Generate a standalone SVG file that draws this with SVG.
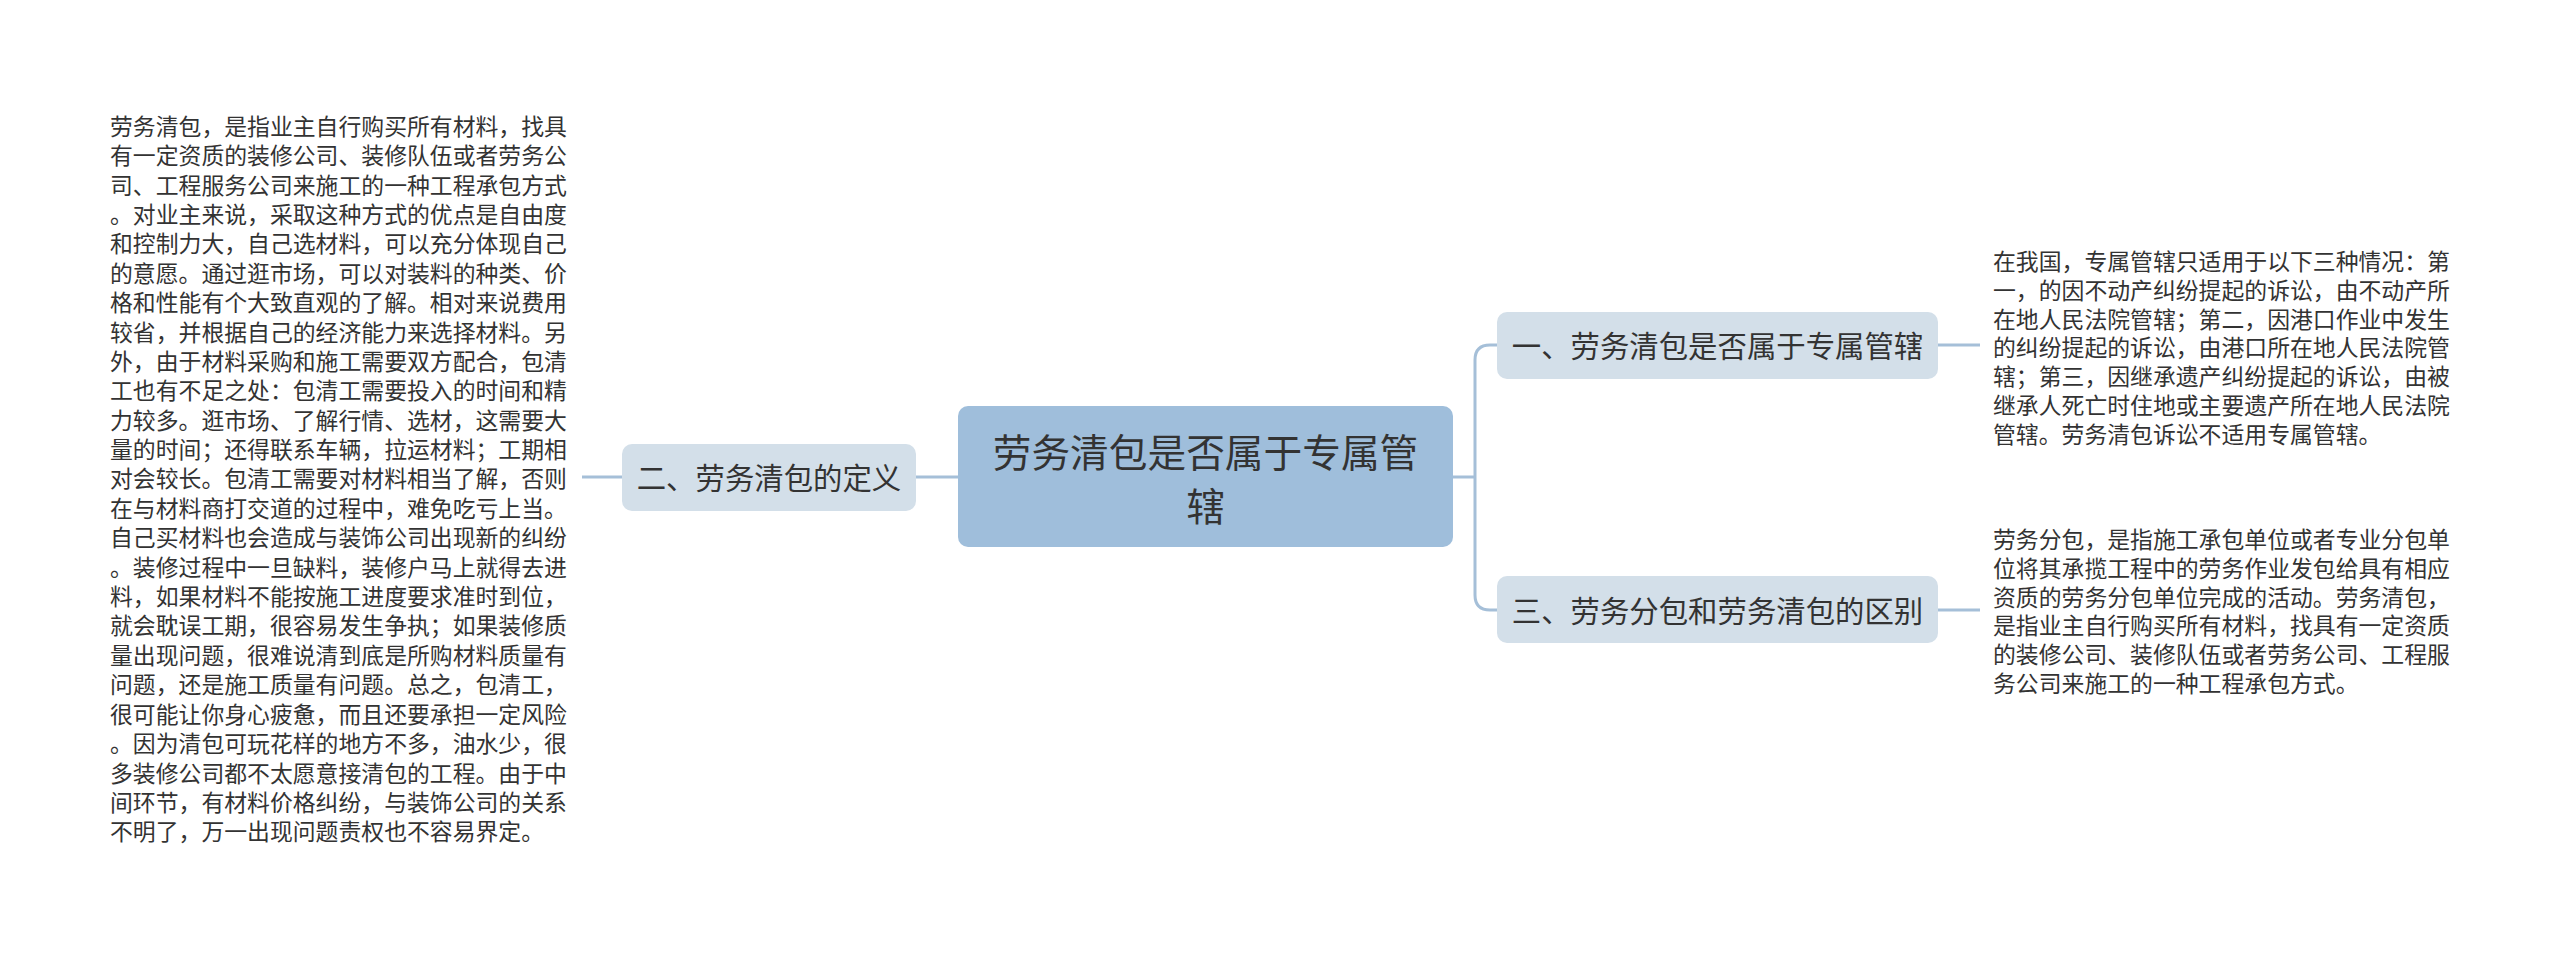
<svg xmlns="http://www.w3.org/2000/svg" width="2560" height="955" viewBox="0 0 2560 955">
<style>
.bg{fill:#ffffff}
.conn{fill:none;stroke:#a5bfd8;stroke-width:3;stroke-linecap:butt}
.root{fill:#9fbedb}
.sub{fill:#d3dfe9}
.t{font-family:"Noto Sans CJK SC","Noto Sans",sans-serif;fill:#333333}
.rt{font-size:38.7px;text-anchor:middle}
.st{font-size:29.4px;text-anchor:middle}
.lt{font-size:22.85px}
</style>
<rect class="bg" x="0" y="0" width="2560" height="955"/>
<g id="connectors">
<path class="conn" d="M1453,477 H1475"/>
<path class="conn" d="M1497,345 H1490 Q1475,345 1475,360 V595 Q1475,610 1490,610 H1497"/>
<path class="conn" d="M916,477 H958"/>
<path class="conn" d="M582,477 H622"/>
<path class="conn" d="M1938,345 H1980"/>
<path class="conn" d="M1938,610 H1980"/>
</g>
<g id="root">
<rect class="root" x="958" y="406" width="495" height="141" rx="10"/>
<text class="t rt" x="1205.5" y="467">劳务清包是否属于专属管</text>
<text class="t rt" x="1205.5" y="521">辖</text>
</g>
<g id="node1">
<rect class="sub" x="1497" y="312" width="441" height="67" rx="10"/>
<text class="t st" x="1717.5" y="356.5">一、劳务清包是否属于专属管辖</text>
</g>
<g id="node2">
<rect class="sub" x="622" y="444" width="294" height="67" rx="10"/>
<text class="t st" x="769" y="488.5">二、劳务清包的定义</text>
</g>
<g id="node3">
<rect class="sub" x="1497" y="576" width="441" height="67" rx="10"/>
<text class="t st" x="1717.5" y="621.5">三、劳务分包和劳务清包的区别</text>
</g>
<g id="leaf1">
<text class="t lt" x="1993" y="269.7">
<tspan x="1993" dy="0">在我国，专属管辖只适用于以下三种情况：第</tspan>
<tspan x="1993" dy="28.9">一，的因不动产纠纷提起的诉讼，由不动产所</tspan>
<tspan x="1993" dy="28.9">在地人民法院管辖；第二，因港口作业中发生</tspan>
<tspan x="1993" dy="28.9">的纠纷提起的诉讼，由港口所在地人民法院管</tspan>
<tspan x="1993" dy="28.9">辖；第三，因继承遗产纠纷提起的诉讼，由被</tspan>
<tspan x="1993" dy="28.9">继承人死亡时住地或主要遗产所在地人民法院</tspan>
<tspan x="1993" dy="28.9">管辖。劳务清包诉讼不适用专属管辖。</tspan>
</text>
</g>
<g id="leaf2">
<text class="t lt" x="110" y="134.7">
<tspan x="110" dy="0">劳务清包，是指业主自行购买所有材料，找具</tspan>
<tspan x="110" dy="29.4">有一定资质的装修公司、装修队伍或者劳务公</tspan>
<tspan x="110" dy="29.4">司、工程服务公司来施工的一种工程承包方式</tspan>
<tspan x="110" dy="29.4">。对业主来说，采取这种方式的优点是自由度</tspan>
<tspan x="110" dy="29.4">和控制力大，自己选材料，可以充分体现自己</tspan>
<tspan x="110" dy="29.4">的意愿。通过逛市场，可以对装料的种类、价</tspan>
<tspan x="110" dy="29.4">格和性能有个大致直观的了解。相对来说费用</tspan>
<tspan x="110" dy="29.4">较省，并根据自己的经济能力来选择材料。另</tspan>
<tspan x="110" dy="29.4">外，由于材料采购和施工需要双方配合，包清</tspan>
<tspan x="110" dy="29.4">工也有不足之处：包清工需要投入的时间和精</tspan>
<tspan x="110" dy="29.4">力较多。逛市场、了解行情、选材，这需要大</tspan>
<tspan x="110" dy="29.4">量的时间；还得联系车辆，拉运材料；工期相</tspan>
<tspan x="110" dy="29.4">对会较长。包清工需要对材料相当了解，否则</tspan>
<tspan x="110" dy="29.4">在与材料商打交道的过程中，难免吃亏上当。</tspan>
<tspan x="110" dy="29.4">自己买材料也会造成与装饰公司出现新的纠纷</tspan>
<tspan x="110" dy="29.4">。装修过程中一旦缺料，装修户马上就得去进</tspan>
<tspan x="110" dy="29.4">料，如果材料不能按施工进度要求准时到位，</tspan>
<tspan x="110" dy="29.4">就会耽误工期，很容易发生争执；如果装修质</tspan>
<tspan x="110" dy="29.4">量出现问题，很难说清到底是所购材料质量有</tspan>
<tspan x="110" dy="29.4">问题，还是施工质量有问题。总之，包清工，</tspan>
<tspan x="110" dy="29.4">很可能让你身心疲惫，而且还要承担一定风险</tspan>
<tspan x="110" dy="29.4">。因为清包可玩花样的地方不多，油水少，很</tspan>
<tspan x="110" dy="29.4">多装修公司都不太愿意接清包的工程。由于中</tspan>
<tspan x="110" dy="29.4">间环节，有材料价格纠纷，与装饰公司的关系</tspan>
<tspan x="110" dy="29.4">不明了，万一出现问题责权也不容易界定。</tspan>
</text>
</g>
<g id="leaf3">
<text class="t lt" x="1993" y="547.7">
<tspan x="1993" dy="0">劳务分包，是指施工承包单位或者专业分包单</tspan>
<tspan x="1993" dy="28.9">位将其承揽工程中的劳务作业发包给具有相应</tspan>
<tspan x="1993" dy="28.9">资质的劳务分包单位完成的活动。劳务清包，</tspan>
<tspan x="1993" dy="28.9">是指业主自行购买所有材料，找具有一定资质</tspan>
<tspan x="1993" dy="28.9">的装修公司、装修队伍或者劳务公司、工程服</tspan>
<tspan x="1993" dy="28.9">务公司来施工的一种工程承包方式。</tspan>
</text>
</g>
</svg>
